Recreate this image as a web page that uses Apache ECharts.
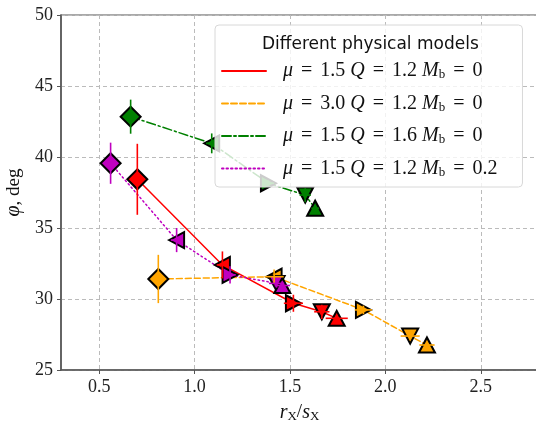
<!DOCTYPE html>
<html>
<head>
<meta charset="utf-8" />
<script src="https://cdn.jsdelivr.net/npm/echarts@6/dist/echarts.min.js"></script>
</head>
<body style="margin:0">
<div id="container" style="width:536px;height:425px"></div>
<script>
// each point: [x, y, xerr, yerr]
var redPts = [[0.70, 38.43, 0.02, 2.5], [1.146, 32.4, 0.03, 0.95], [1.518, 29.7, 0.05, 0.6], [1.667, 29.1, 0.04, 0.5], [1.745, 28.64, 0.058, 0.2]];
var orangePts = [[0.81, 31.41, 0.02, 1.7], [1.417, 31.57, 0.05, 0.5], [1.885, 29.23, 0.045, 0.3], [2.13, 27.39, 0.05, 0.3], [2.218, 26.76, 0.04, 0.2]];
var greenPts = [[0.665, 42.84, 0.02, 1.2], [1.09, 40.96, 0.03, 0.7], [1.387, 38.15, 0.03, 0.2], [1.58, 37.32, 0.03, 0.5], [1.632, 36.39, 0.02, 0.2]];
var magentaPts = [[0.56, 39.56, 0.02, 1.45], [0.906, 34.15, 0.03, 0.85], [1.186, 31.7, 0.03, 0.6], [1.43, 31.1, 0.04, 0.3], [1.46, 30.95, 0.04, 0.3]];

var modelNames = ['red', 'orange', 'green', 'magenta'];
var modelLabels = [
  '{i|μ}{e|=}1.5 {i|Q}{e|=}1.2 {i|M}{s|b}{e|=}0',
  '{i|μ}{e|=}3.0 {i|Q}{e|=}1.2 {i|M}{s|b}{e|=}0',
  '{i|μ}{e|=}1.5 {i|Q}{e|=}1.6 {i|M}{s|b}{e|=}0',
  '{i|μ}{e|=}1.5 {i|Q}{e|=}1.2 {i|M}{s|b}{e|=}0.2'
];
var colors = ['#ff0000', '#ffa500', '#008000', '#bf00bf'];
var dashes = ['solid', [6, 3], [9, 3, 2, 3], [1.5, 3]];
var allPts = [redPts, orangePts, greenPts, magentaPts];

var xTicks = [0.5, 1.0, 1.5, 2.0, 2.5];

// marker shape for n-th point: diamond, left, right, down, up
var markerRot = [0, 90, -90, 180, 0];

var serif = 'Liberation Serif';

var series = [];
allPts.forEach(function (pts, k) {
  series.push({
    name: modelNames[k],
    type: 'line',
    data: pts.map(function (p) { return [p[0], p[1]]; }),
    showSymbol: false,
    symbol: 'none',
    lineStyle: { color: colors[k], width: 1.5, type: dashes[k], cap: 'round' },
    itemStyle: { color: colors[k] },
    z: 2
  });
  series.push({
    type: 'scatter',
    data: pts.map(function (p, i) {
      return {
        value: [p[0], p[1]],
        symbol: i === 0 ? 'diamond' : 'triangle',
        symbolSize: i === 0 ? [20, 20] : [16, 15],
        symbolRotate: markerRot[i]
      };
    }),
    itemStyle: { color: colors[k], borderColor: '#000', borderWidth: 2, opacity: 1 },
    z: 3
  });
  series.push({
    type: 'custom',
    data: pts,
    renderItem: function (params, api) {
      var x = api.value(0), y = api.value(1), ex = api.value(2), ey = api.value(3);
      var a = api.coord([x - ex, y]), b = api.coord([x + ex, y]);
      var c = api.coord([x, y - ey]), d = api.coord([x, y + ey]);
      var st = { stroke: colors[k], lineWidth: 1.6 };
      return {
        type: 'group',
        children: [
          { type: 'line', shape: { x1: a[0], y1: a[1], x2: b[0], y2: b[1] }, style: st },
          { type: 'line', shape: { x1: c[0], y1: c[1], x2: d[0], y2: d[1] }, style: st }
        ]
      };
    },
    z: 4
  });
});

var chart = echarts.init(document.getElementById('container'));
chart.setOption({
  animation: false,
  grid: { left: 61, right: -2, top: 15, bottom: 55, show: true, borderColor: '#555', borderWidth: 1.2, outerBoundsMode: 'none' },
  title: {
    text: 'Different physical models',
    left: 257, top: 31,
    textStyle: { fontFamily: 'DejaVu Sans', fontWeight: 'normal', fontSize: 17, color: '#111' },
    z: 10
  },
  legend: {
    orient: 'vertical',
    left: 215, top: 25,
    padding: [36, 25, 8, 6],
    itemWidth: 44, itemHeight: 14, itemGap: 12,
    backgroundColor: 'rgba(255,255,255,0.8)',
    borderColor: '#d8d8d8', borderWidth: 1, borderRadius: 4,
    itemStyle: { opacity: 0 },
    data: modelNames,
    formatter: function (name) { return modelLabels[modelNames.indexOf(name)]; },
    textStyle: {
      fontFamily: serif, fontSize: 20, color: '#111', padding: [0, 0, 0, 12],
      rich: {
        i: { fontFamily: serif, fontStyle: 'italic', fontSize: 20, color: '#111' },
        e: { fontFamily: serif, fontSize: 20, color: '#111', padding: [0, 8, 0, 8] },
        s: { fontFamily: serif, fontSize: 13, color: '#111', verticalAlign: 'bottom', padding: [8, 0, 0, 0] }
      }
    },
    z: 6
  },
  xAxis: {
    type: 'value', min: 0.3, max: 2.8,
    name: '{i|r}{s|X}/{i|s}{s|X}', nameLocation: 'middle', nameGap: 32,
    nameTextStyle: {
      fontFamily: serif, fontSize: 19, color: '#111',
      rich: {
        i: { fontFamily: serif, fontStyle: 'italic', fontSize: 20, color: '#111' },
        s: { fontFamily: serif, fontSize: 13, color: '#111', verticalAlign: 'bottom', padding: [8, 0, 0, 0] }
      }
    },
    axisLine: { lineStyle: { color: '#555', width: 1.5 } },
    axisTick: { customValues: xTicks, length: 4, lineStyle: { color: '#555' } },
    axisLabel: { customValues: xTicks, fontFamily: serif, fontSize: 18, color: '#222', margin: 8,
      formatter: function (v) { return v.toFixed(1); } },
    splitLine: { show: true, lineStyle: { color: '#bbb', type: [4, 3] } }
  },
  yAxis: {
    type: 'value', min: 25, max: 50, interval: 5,
    name: '{i|φ}, deg', nameLocation: 'middle', nameGap: 37, nameRotate: 90,
    nameTextStyle: {
      fontFamily: serif, fontSize: 19, color: '#111',
      rich: { i: { fontFamily: serif, fontStyle: 'italic', fontSize: 20, color: '#111' } }
    },
    axisLine: { show: true, lineStyle: { color: '#555', width: 1.5 } },
    axisTick: { show: true, length: 4, lineStyle: { color: '#555' } },
    axisLabel: { fontFamily: serif, fontSize: 18, color: '#222', margin: 8 },
    splitLine: { show: true, lineStyle: { color: '#bbb', type: [4, 3] } }
  },
  series: series
});
window.addEventListener('resize', chart.resize);
</script>
</body>
</html>
